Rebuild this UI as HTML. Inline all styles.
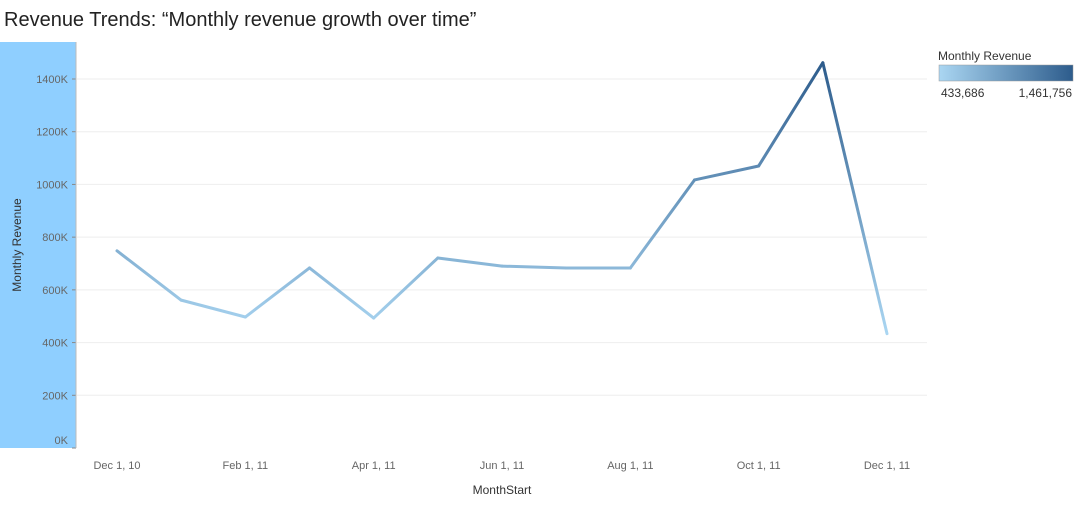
<!DOCTYPE html>
<html><head><meta charset="utf-8"><style>
body{margin:0;background:#fff;font-family:"Liberation Sans",sans-serif;}
svg text{font-family:"Liberation Sans",sans-serif;}
</style></head><body>
<svg id="chart" width="1077" height="505" xmlns="http://www.w3.org/2000/svg">
<defs>
<linearGradient id="legGrad" x1="0" x2="1" y1="0" y2="0"><stop offset="0" stop-color="#aad6f2"/><stop offset="1" stop-color="#2d5c8c"/></linearGradient>
</defs>
<text x="4" y="26" font-size="20" fill="#222">Revenue Trends: “Monthly revenue growth over time”</text>
<rect x="0" y="42" width="76" height="406" fill="#8fcfff"/>
<text transform="translate(21,245) rotate(-90)" text-anchor="middle" font-size="12" fill="#333">Monthly Revenue</text>
<text x="502" y="494" text-anchor="middle" font-size="12" fill="#333">MonthStart</text>
<g id="grid"></g><g id="yticks"></g><g id="xticks"></g><g id="series"></g>
<g>
<text x="938" y="60" font-size="12" fill="#333">Monthly Revenue</text>
<rect x="939" y="65" width="134" height="16" fill="url(#legGrad)" stroke="#999" stroke-width="0.5"/>
<text x="941" y="97" font-size="12" fill="#333">433,686</text>
<text x="1072" y="97" text-anchor="end" font-size="12" fill="#333">1,461,756</text>
</g>
</svg>
<script>
const months=["Dec 1, 10","Jan 1, 11","Feb 1, 11","Mar 1, 11","Apr 1, 11","May 1, 11","Jun 1, 11","Jul 1, 11","Aug 1, 11","Sep 1, 11","Oct 1, 11","Nov 1, 11","Dec 1, 11"];
const revenue=[748000,561000,497000,683000,493000,721000,690000,683000,683000,1017000,1070000,1461756,433686];
const yTicks=[0,200000,400000,600000,800000,1000000,1200000,1400000];
const yTickLabels=["0K","200K","400K","600K","800K","1000K","1200K","1400K"];
const xTickIdx=[0,2,4,6,8,10,12];
const NS="http://www.w3.org/2000/svg";
const x=i=>117+i*(887-117)/(months.length-1);
const y=v=>448-v*(448-79)/1400000;
const vmin=Math.min(...revenue),vmax=Math.max(...revenue);
function col(v){const t=(v-vmin)/(vmax-vmin);const a=[170,214,242],b=[45,92,140];return "rgb("+a.map((c,k)=>Math.round(c+(b[k]-c)*t)).join(",")+")";}
function mk(tag,attrs,parent){const e=document.createElementNS(NS,tag);for(const k in attrs)e.setAttribute(k,attrs[k]);document.getElementById(parent).appendChild(e);return e;}
yTicks.forEach((v,i)=>{
 if(v>0){const g=mk("line",{x1:77,x2:927,y1:y(v),y2:y(v),stroke:"#eeeeee","stroke-width":1},"grid");
 
 }
 const ly=v===0?y(v)-4:y(v)+4;
 const t=mk("text",{x:68,y:ly,"text-anchor":"end","font-size":11,fill:"#666"},"yticks");t.textContent=yTickLabels[i];
 
 
 const tk=mk("line",{x1:72,x2:76,y1:y(v),y2:y(v),stroke:"#888"},"yticks");
 
 
});
const ax=mk("line",{x1:76,x2:76,y1:42,y2:448,stroke:"#bbb"},"yticks");


xTickIdx.forEach(i=>{
 const t=mk("text",{x:x(i),y:469,"text-anchor":"middle","font-size":11,fill:"#666"},"xticks");t.textContent=months[i];
 
 
});
const defs=document.querySelector("defs");
for(let i=0;i<revenue.length-1;i++){
 const gid="sg"+i;const lg=document.createElementNS(NS,"linearGradient");
 lg.setAttribute("id",gid);lg.setAttribute("gradientUnits","userSpaceOnUse");
 lg.setAttribute("x1",x(i));lg.setAttribute("y1",y(revenue[i]));lg.setAttribute("x2",x(i+1));lg.setAttribute("y2",y(revenue[i+1]));
 [[0,revenue[i]],[1,revenue[i+1]]].forEach(([o,v])=>{const s=document.createElementNS(NS,"stop");s.setAttribute("offset",o);s.setAttribute("stop-color",col(v));lg.appendChild(s);});
 defs.appendChild(lg);
 const seg=mk("line",{x1:x(i),y1:y(revenue[i]),x2:x(i+1),y2:y(revenue[i+1]),stroke:"url(#"+gid+")","stroke-width":3,"stroke-linecap":"round"},"series");
 
 
}
</script>
</body></html>
